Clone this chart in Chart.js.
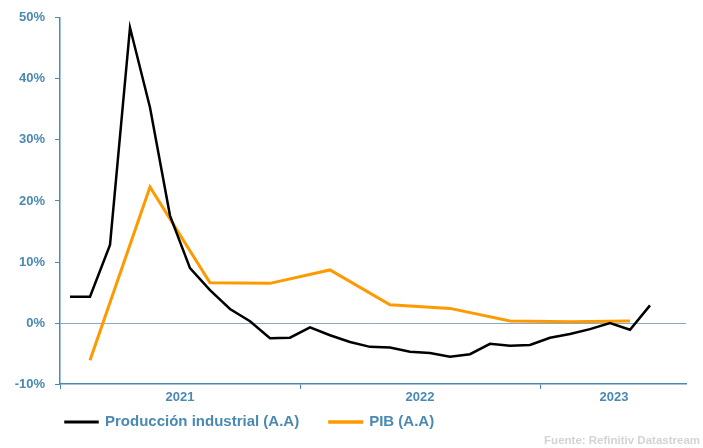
<!DOCTYPE html>
<html>
<head>
<meta charset="utf-8">
<script src="https://cdn.jsdelivr.net/npm/chart.js@4.4.0/dist/chart.umd.min.js"></script>
<style>
  html, body { margin: 0; padding: 0; background: #fff; }
  #wrap { width: 703px; height: 448px; }
</style>
</head>
<body>
<div id="wrap"><canvas id="c"></canvas></div>
<script>
// meses ene-2021 .. jul-2023
const months = ['ene-21','feb-21','mar-21','abr-21','may-21','jun-21','jul-21','ago-21','sep-21','oct-21','nov-21','dic-21',
  'ene-22','feb-22','mar-22','abr-22','may-22','jun-22','jul-22','ago-22','sep-22','oct-22','nov-22','dic-22',
  'ene-23','feb-23','mar-23','abr-23','may-23','jun-23','jul-23']

const produccion = [4.3, 4.3, 12.8, 48.4, 35.3, 17.6, 9.0, 5.4, 2.3, 0.3, -2.5, -2.4,
  -0.7, -2.0, -3.1, -3.9, -4.0, -4.7, -4.9, -5.5, -5.1, -3.4, -3.7, -3.6,
  -2.4, -1.8, -1.0, 0.0, -1.1, 2.9, null]

const pib = [null, -6.1, null, null, 22.3, null, null, 6.6, null, null, 6.5, null,
  null, 8.7, null, null, 3.0, null, null, 2.4, null, null, 0.35, null,
  null, 0.2, null, null, 0.35, null, null]

const yearLabels = ['2021', '2022', '2023']
const yearPos = [6, 18, 27.7]     // centro de cada año (en meses)
const yearEdges = [0, 12, 24]     // separadores

const axisColor = '#4a89b2'
const zeroColor = '#86aac4'
const font = 'Liberation Sans'

const toPoints = arr => arr.map((v, i) => ({ x: i + 0.5, y: v }))

const ctx = document.getElementById('c').getContext('2d')
const chart = new Chart(ctx, {
  type: 'line',
  data: {
    datasets: [{
      label: 'Producción industrial (A.A)',
      data: toPoints(produccion),
      borderColor: '#000000',
      backgroundColor: '#000000',
      borderWidth: 2.5,
      pointRadius: 0,
      tension: 0
    }, {
      label: 'PIB (A.A)',
      data: toPoints(pib),
      borderColor: '#ff9900',
      backgroundColor: '#ff9900',
      borderWidth: 3,
      pointRadius: 0,
      tension: 0,
      spanGaps: true
    }]
  },
  options: {
    responsive: true,
    maintainAspectRatio: false,
    animation: false,
    layout: { padding: { left: 0, right: 3, top: 16, bottom: 0 } },
    plugins: {
      legend: {
        position: 'bottom',
        align: 'start',
        fullSize: false,
        labels: {
          boxWidth: 32,
          boxHeight: 0.5,
          padding: 5.5,
          color: axisColor,
          font: { family: font, size: 15, weight: 'bold' },
          generateLabels: c => {
            const items = Chart.defaults.plugins.legend.labels.generateLabels(c)
            // separación extra entre las dos entradas
            items[0].text = items[0].text + '      '
            return items
          }
        }
      },
      title: {
        display: true,
        position: 'bottom',
        align: 'end',
        text: 'Fuente: Refinitiv Datastream',
        color: '#d3d3d3',
        padding: { top: -5.4, bottom: 0 },
        font: { family: font, size: 11.5, weight: 'bold' }
      },
      tooltip: { enabled: false }
    },
    scales: {
      x: {
        type: 'linear',
        min: 0,
        max: 31.3,
        afterBuildTicks: scale => {
          const vals = yearEdges.concat(yearPos).sort((a, b) => a - b)
          scale.ticks = vals.map(v => ({ value: v }))
        },
        afterFit: scale => { scale.height = 25 },
        ticks: {
          autoSkip: false,
          maxRotation: 0,
          padding: 1,
          color: axisColor,
          font: { family: font, size: 13, weight: 'bold' },
          callback: v => {
            const k = yearPos.indexOf(v)
            return k >= 0 ? yearLabels[k] : ''
          }
        },
        grid: {
          drawOnChartArea: false,
          drawTicks: true,
          tickLength: 5,
          tickColor: c => yearEdges.includes(c.tick && c.tick.value) ? axisColor : 'rgba(0,0,0,0)'
        },
        border: { color: axisColor, width: 1.5 }
      },
      y: {
        min: -10,
        max: 50,
        afterFit: scale => { scale.width = 60 },
        ticks: {
          stepSize: 10,
          padding: 10,
          color: axisColor,
          font: { family: font, size: 13, weight: 'bold' },
          callback: v => v + '%'
        },
        grid: {
          drawTicks: true,
          tickLength: 5,
          tickColor: axisColor,
          color: c => c.tick && c.tick.value === 0 ? zeroColor : 'rgba(0,0,0,0)',
          lineWidth: 1
        },
        border: { color: axisColor, width: 1.5 }
      },
      yR: {
        position: 'right',
        min: -10,
        max: 50,
        afterFit: scale => { scale.width = 14 },
        ticks: { display: false },
        grid: { display: false },
        border: { display: false }
      }
    }
  }
})
</script>
</body>
</html>
